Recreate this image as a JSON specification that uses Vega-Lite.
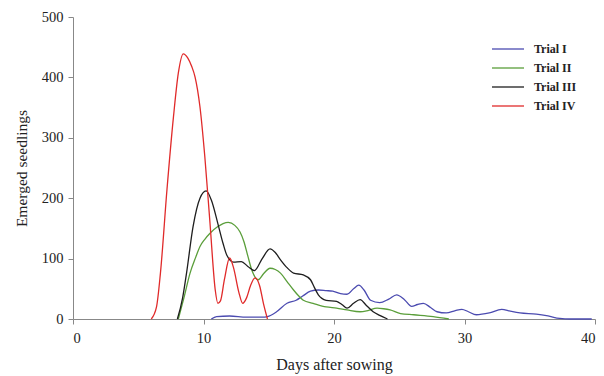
{
  "$schema": "https://vega.github.io/schema/vega-lite/v6.json",
  "width": 522,
  "height": 302,
  "autosize": {"type": "none"},
  "padding": {"left": 73, "top": 17, "right": 9, "bottom": 57},
  "background": "white",
  "config": {
    "view": {"stroke": null},
    "font": "Liberation Serif"
  },
  "datasets": {
    "pts": [
      {"trial": "Trial I", "day": 10.6, "v": 0},
      {"trial": "Trial I", "day": 11.0, "v": 4},
      {"trial": "Trial I", "day": 12.0, "v": 5},
      {"trial": "Trial I", "day": 13.3, "v": 3},
      {"trial": "Trial I", "day": 14.5, "v": 3},
      {"trial": "Trial I", "day": 14.9, "v": 4},
      {"trial": "Trial I", "day": 15.6, "v": 12},
      {"trial": "Trial I", "day": 16.4, "v": 26},
      {"trial": "Trial I", "day": 17.1, "v": 31},
      {"trial": "Trial I", "day": 17.6, "v": 38},
      {"trial": "Trial I", "day": 18.2, "v": 46},
      {"trial": "Trial I", "day": 18.8, "v": 48},
      {"trial": "Trial I", "day": 19.4, "v": 47},
      {"trial": "Trial I", "day": 19.9, "v": 46},
      {"trial": "Trial I", "day": 20.5, "v": 42},
      {"trial": "Trial I", "day": 21.0, "v": 41},
      {"trial": "Trial I", "day": 21.5, "v": 50},
      {"trial": "Trial I", "day": 21.9, "v": 56},
      {"trial": "Trial I", "day": 22.3, "v": 48},
      {"trial": "Trial I", "day": 22.8, "v": 31},
      {"trial": "Trial I", "day": 23.5, "v": 27},
      {"trial": "Trial I", "day": 24.2, "v": 33},
      {"trial": "Trial I", "day": 24.8, "v": 40},
      {"trial": "Trial I", "day": 25.4, "v": 32},
      {"trial": "Trial I", "day": 25.95, "v": 21},
      {"trial": "Trial I", "day": 26.4, "v": 24},
      {"trial": "Trial I", "day": 26.85, "v": 26},
      {"trial": "Trial I", "day": 27.4, "v": 19},
      {"trial": "Trial I", "day": 27.9, "v": 12},
      {"trial": "Trial I", "day": 28.6, "v": 10},
      {"trial": "Trial I", "day": 29.3, "v": 14},
      {"trial": "Trial I", "day": 29.8, "v": 16},
      {"trial": "Trial I", "day": 30.3, "v": 12},
      {"trial": "Trial I", "day": 30.9, "v": 7},
      {"trial": "Trial I", "day": 31.9, "v": 10},
      {"trial": "Trial I", "day": 32.85, "v": 16},
      {"trial": "Trial I", "day": 33.5, "v": 13},
      {"trial": "Trial I", "day": 34.25, "v": 10},
      {"trial": "Trial I", "day": 35.5, "v": 8},
      {"trial": "Trial I", "day": 36.4, "v": 5},
      {"trial": "Trial I", "day": 37.3, "v": 1},
      {"trial": "Trial I", "day": 38.1, "v": 0},
      {"trial": "Trial I", "day": 39.75, "v": 0},

      {"trial": "Trial II", "day": 8.07, "v": 0},
      {"trial": "Trial II", "day": 8.5, "v": 35},
      {"trial": "Trial II", "day": 8.97, "v": 76},
      {"trial": "Trial II", "day": 9.4, "v": 102},
      {"trial": "Trial II", "day": 9.73, "v": 120},
      {"trial": "Trial II", "day": 10.1, "v": 132},
      {"trial": "Trial II", "day": 10.5, "v": 142},
      {"trial": "Trial II", "day": 11.1, "v": 153},
      {"trial": "Trial II", "day": 11.5, "v": 158},
      {"trial": "Trial II", "day": 11.9, "v": 160},
      {"trial": "Trial II", "day": 12.4, "v": 155},
      {"trial": "Trial II", "day": 12.8, "v": 144},
      {"trial": "Trial II", "day": 13.1, "v": 128},
      {"trial": "Trial II", "day": 13.4, "v": 104},
      {"trial": "Trial II", "day": 13.7, "v": 81},
      {"trial": "Trial II", "day": 14.2, "v": 65},
      {"trial": "Trial II", "day": 14.6, "v": 75},
      {"trial": "Trial II", "day": 15.1, "v": 84},
      {"trial": "Trial II", "day": 15.5, "v": 82},
      {"trial": "Trial II", "day": 15.9, "v": 76},
      {"trial": "Trial II", "day": 16.4, "v": 62},
      {"trial": "Trial II", "day": 16.9, "v": 48},
      {"trial": "Trial II", "day": 17.3, "v": 38},
      {"trial": "Trial II", "day": 17.65, "v": 31},
      {"trial": "Trial II", "day": 18.4, "v": 26},
      {"trial": "Trial II", "day": 19.4, "v": 20},
      {"trial": "Trial II", "day": 20.2, "v": 18},
      {"trial": "Trial II", "day": 21.0, "v": 15},
      {"trial": "Trial II", "day": 22.0, "v": 12},
      {"trial": "Trial II", "day": 22.6, "v": 14},
      {"trial": "Trial II", "day": 23.3, "v": 18},
      {"trial": "Trial II", "day": 23.8, "v": 17},
      {"trial": "Trial II", "day": 24.3, "v": 15},
      {"trial": "Trial II", "day": 25.1, "v": 9},
      {"trial": "Trial II", "day": 26.1, "v": 7},
      {"trial": "Trial II", "day": 27.6, "v": 4},
      {"trial": "Trial II", "day": 28.8, "v": 0},

      {"trial": "Trial III", "day": 8.0, "v": 0},
      {"trial": "Trial III", "day": 8.4, "v": 35},
      {"trial": "Trial III", "day": 8.7, "v": 76},
      {"trial": "Trial III", "day": 9.2, "v": 153},
      {"trial": "Trial III", "day": 9.73, "v": 200},
      {"trial": "Trial III", "day": 10.2, "v": 212},
      {"trial": "Trial III", "day": 10.6, "v": 197},
      {"trial": "Trial III", "day": 11.1, "v": 158},
      {"trial": "Trial III", "day": 11.5, "v": 125},
      {"trial": "Trial III", "day": 11.8, "v": 105},
      {"trial": "Trial III", "day": 12.3, "v": 94},
      {"trial": "Trial III", "day": 12.9, "v": 95},
      {"trial": "Trial III", "day": 13.4, "v": 87},
      {"trial": "Trial III", "day": 13.9, "v": 80},
      {"trial": "Trial III", "day": 14.5, "v": 100},
      {"trial": "Trial III", "day": 15.1, "v": 116},
      {"trial": "Trial III", "day": 15.5, "v": 110},
      {"trial": "Trial III", "day": 15.9, "v": 98},
      {"trial": "Trial III", "day": 16.4, "v": 85},
      {"trial": "Trial III", "day": 16.9, "v": 76},
      {"trial": "Trial III", "day": 17.65, "v": 73},
      {"trial": "Trial III", "day": 18.2, "v": 65},
      {"trial": "Trial III", "day": 18.5, "v": 52},
      {"trial": "Trial III", "day": 18.8, "v": 40},
      {"trial": "Trial III", "day": 19.4, "v": 31},
      {"trial": "Trial III", "day": 20.2, "v": 29},
      {"trial": "Trial III", "day": 20.6, "v": 24},
      {"trial": "Trial III", "day": 21.0, "v": 18},
      {"trial": "Trial III", "day": 21.5, "v": 26},
      {"trial": "Trial III", "day": 22.0, "v": 32},
      {"trial": "Trial III", "day": 22.5, "v": 22},
      {"trial": "Trial III", "day": 23.0, "v": 12},
      {"trial": "Trial III", "day": 23.5, "v": 6},
      {"trial": "Trial III", "day": 24.1, "v": 0},

      {"trial": "Trial IV", "day": 6.0, "v": 0},
      {"trial": "Trial IV", "day": 6.4, "v": 20},
      {"trial": "Trial IV", "day": 6.7, "v": 76},
      {"trial": "Trial IV", "day": 7.2, "v": 214},
      {"trial": "Trial IV", "day": 7.7, "v": 335},
      {"trial": "Trial IV", "day": 8.07, "v": 407},
      {"trial": "Trial IV", "day": 8.45, "v": 439},
      {"trial": "Trial IV", "day": 8.8, "v": 432},
      {"trial": "Trial IV", "day": 9.1, "v": 418},
      {"trial": "Trial IV", "day": 9.35, "v": 401},
      {"trial": "Trial IV", "day": 9.73, "v": 351},
      {"trial": "Trial IV", "day": 10.1, "v": 269},
      {"trial": "Trial IV", "day": 10.5, "v": 158},
      {"trial": "Trial IV", "day": 10.9, "v": 48},
      {"trial": "Trial IV", "day": 11.1, "v": 26},
      {"trial": "Trial IV", "day": 11.3, "v": 30},
      {"trial": "Trial IV", "day": 11.6, "v": 65},
      {"trial": "Trial IV", "day": 12.0, "v": 101},
      {"trial": "Trial IV", "day": 12.3, "v": 85},
      {"trial": "Trial IV", "day": 12.7, "v": 45},
      {"trial": "Trial IV", "day": 13.0, "v": 26},
      {"trial": "Trial IV", "day": 13.3, "v": 35},
      {"trial": "Trial IV", "day": 13.6, "v": 55},
      {"trial": "Trial IV", "day": 13.95, "v": 68},
      {"trial": "Trial IV", "day": 14.3, "v": 55},
      {"trial": "Trial IV", "day": 14.6, "v": 25},
      {"trial": "Trial IV", "day": 14.9, "v": 0}
    ]
  },
  "data": {"name": "pts"},
  "mark": {"type": "line", "interpolate": "monotone", "strokeWidth": 1.3},
  "encoding": {
    "x": {
      "field": "day", "type": "quantitative",
      "scale": {"domain": [0, 40], "nice": false},
      "axis": {
        "title": "Days after sowing", "values": [0, 10, 20, 30, 40],
        "grid": false, "domainColor": "#888", "tickColor": "#888", "tickSize": 5,
        "labelFont": "Liberation Serif", "labelFontSize": 14.5, "labelColor": "#222", "labelPadding": 7,
        "titleFont": "Liberation Serif", "titleFontSize": 16, "titleFontWeight": "normal", "titleColor": "#222", "titlePadding": 12
      }
    },
    "y": {
      "field": "v", "type": "quantitative",
      "scale": {"domain": [0, 500], "nice": false},
      "axis": {
        "title": "Emerged seedlings", "values": [0, 100, 200, 300, 400, 500],
        "grid": false, "domainColor": "#888", "tickColor": "#888", "tickSize": 5,
        "labelFont": "Liberation Serif", "labelFontSize": 14.5, "labelColor": "#222", "labelPadding": 5,
        "titleFont": "Liberation Serif", "titleFontSize": 15.5, "titleFontWeight": "normal", "titleColor": "#222", "titlePadding": 12
      }
    },
    "color": {
      "field": "trial", "type": "nominal",
      "scale": {"domain": ["Trial I", "Trial II", "Trial III", "Trial IV"], "range": ["#4b4bb0", "#5a9e3a", "#1e1e1e", "#e02a2a"]},
      "legend": {
        "title": null, "orient": "none", "legendX": 424, "legendY": 21,
        "symbolType": "M-1.6,0H1.6", "symbolSize": 400, "symbolStrokeWidth": 1.3,
        "labelFont": "Liberation Serif", "labelFontSize": 12, "labelFontWeight": "bold", "labelColor": "#222",
        "rowPadding": 2, "labelOffset": 15
      }
    },
    "order": {"field": "day", "type": "quantitative"}
  }
}
